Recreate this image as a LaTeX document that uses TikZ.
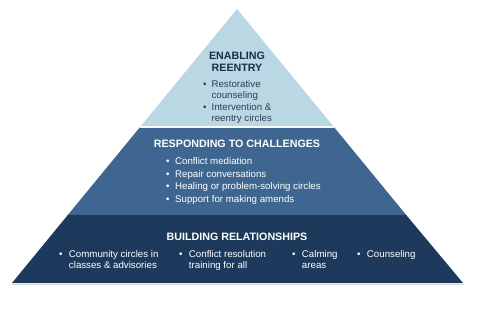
\documentclass[tikz,border=0pt]{standalone}
\usepackage{fontspec}
\setmainfont{Liberation Sans}
\definecolor{lightb}{HTML}{B9D8E4}
\definecolor{midb}{HTML}{3E6690}
\definecolor{darkb}{HTML}{1D3A5C}
\definecolor{toptext}{HTML}{1B2E45}
\definecolor{topbul}{HTML}{2E3E52}
\begin{document}
\begin{tikzpicture}[x=1pt,y=-1pt,
  title/.style={font=\bfseries\fontsize{10.7}{12.5}\selectfont, inner sep=0pt},
  blist/.style={inner sep=0pt, anchor=north west, align=left},
]
\useasboundingbox (0,0) rectangle (479,313);
\fill[white] (0,0) rectangle (479,313);
% layers
\coordinate (A) at (237,9);
\coordinate (L1) at (140.1,127);
\coordinate (R1) at (333.9,127);
\coordinate (L2) at (67.8,215);
\coordinate (R2) at (406.2,215);
\coordinate (BL) at (12,283);
\coordinate (BR) at (463,283);
\fill[lightb] (A) -- (R1) -- (L1) -- cycle;
\fill[midb] (L1) -- (R1) -- (R2) -- (L2) -- cycle;
\fill[darkb] (L2) -- (R2) -- (BR) -- (BL) -- cycle;
\draw[white!85!lightb, line width=1.2pt] (L1) -- (R1);
\draw[gray!30, line width=0.8pt] ([yshift=-0.9pt]BL) -- ([yshift=-0.9pt]BR);
% top
\node[title, text=toptext, align=center] (t1) at (237,61.5) {ENABLING\\[-0.5pt]REENTRY};
\node[blist, text=topbul, font=\fontsize{9.7}{11.3}\selectfont] (l1) at (203,79.5) {%
\begin{tabular}{@{}l@{\hspace{5pt}}l@{}}
\textbullet & Restorative\\
 & counseling\\
\textbullet & Intervention \&\\
 & reentry circles
\end{tabular}};
% middle
\node[title, text=white] (t2) at (237,144) {RESPONDING TO CHALLENGES};
\node[blist, text=white, font=\fontsize{9.7}{12.7}\selectfont] (l2) at (166,155.5) {%
\begin{tabular}{@{}l@{\hspace{5.6pt}}l@{}}
\textbullet & Conflict mediation\\
\textbullet & Repair conversations\\
\textbullet & Healing or problem-solving circles\\
\textbullet & Support for making amends
\end{tabular}};
% bottom
\node[title, text=white] (t3) at (237,237) {BUILDING RELATIONSHIPS};
\tikzset{bl/.style={blist, text=white, font=\fontsize{9.7}{11}\selectfont}}
\node[bl] (b1) at (59,249.7) {%
\begin{tabular}{@{}l@{\hspace{6.4pt}}l@{}}
\textbullet & Community circles in\\
 & classes \& advisories
\end{tabular}};
\node[bl] (b2) at (179,249.7) {%
\begin{tabular}{@{}l@{\hspace{6.4pt}}l@{}}
\textbullet & Conflict resolution\\
 & training for all
\end{tabular}};
\node[bl] (b3) at (292,249.7) {%
\begin{tabular}{@{}l@{\hspace{6.4pt}}l@{}}
\textbullet & Calming\\
 & areas
\end{tabular}};
\node[bl] (b4) at (357,249.7) {%
\begin{tabular}{@{}l@{\hspace{6.4pt}}l@{}}
\textbullet & Counseling
\end{tabular}};
\end{tikzpicture}
\end{document}
